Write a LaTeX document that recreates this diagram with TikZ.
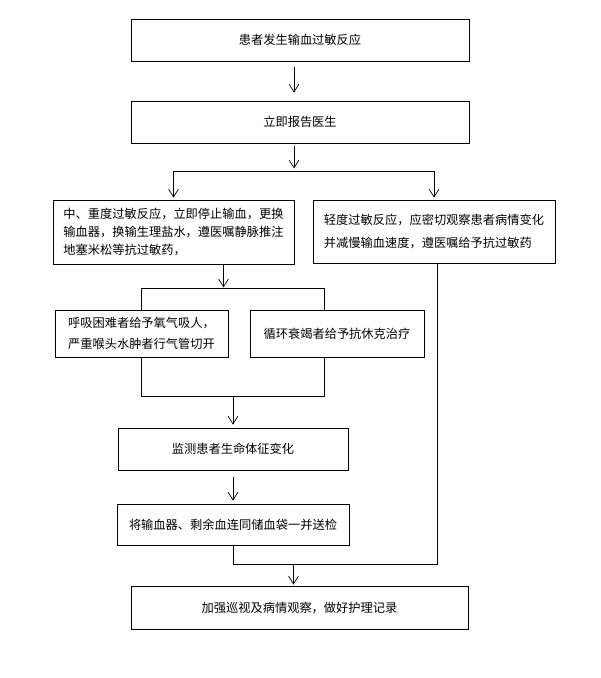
\documentclass[tikz,border=0pt]{standalone}
\usepackage{fontspec}
\setmainfont{Noto Sans CJK SC}
\usetikzlibrary{arrows.meta,calc}

\tikzset{
  box/.style={draw, line width=0.6pt, rectangle, inner sep=0pt,
    font=\fontsize{8.7pt}{13.1pt}\selectfont},
  arr/.style={line width=0.6pt, -{Straight Barb[length=5.5pt,width=7pt,line width=0.5pt]}},
  ln/.style={line width=0.6pt}
}

\begin{document}
\begin{tikzpicture}[x=0.025cm, y=-0.025cm]
    \useasboundingbox (0,0) rectangle (600,678);

    % Riquadri
    \node[box, minimum width=8.45cm, minimum height=1.05cm] (onset) at (300,40) {患者发生输血过敏反应};
    \node[box, minimum width=8.45cm, minimum height=1.05cm] (doctor) at (300,122) {立即报告医生};
    \node[box, minimum width=6.025cm, minimum height=1.6cm, align=left] (severe) at (173.5,232)
        {中、重度过敏反应，立即停止输血，更换\\输血器，换输生理盐水，遵医嘱静脉推注\\地塞米松等抗过敏药，};
    \node[box, minimum width=6.05cm, minimum height=1.575cm, align=left,
        font=\fontsize{8.7pt}{16.3pt}\selectfont] (mild) at (434,231.5)
        {轻度过敏反应，应密切观察患者病情变化\\并减慢输血速度，遵医嘱给予抗过敏药};
    \node[box, minimum width=4.325cm, minimum height=1.175cm, align=left,
        font=\fontsize{8.7pt}{14.9pt}\selectfont] (breath) at (141.5,333.5)
        {呼吸困难者给予氧气吸人，\\严重喉头水肿者行气管切开};
    \node[box, minimum width=4.35cm, minimum height=1.175cm] (shock) at (337,333.5) {循环衰竭者给予抗休克治疗};
    \node[box, minimum width=5.75cm, minimum height=1.05cm] (monitor) at (233,449) {监测患者生命体征变化};
    \node[box, minimum width=5.8cm, minimum height=1.025cm] (sample) at (233,524.5) {将输血器、剩余血连同储血袋一并送检};
    \node[box, minimum width=8.425cm, minimum height=1.075cm] (patrol) at (299.5,607.5) {加强巡视及病情观察，做好护理记录};

    % Frecce in alto
    \draw[arr] ($(onset.south)+(-6,6)$) -- ($(doctor.north)+(-6,-8)$);
    \coordinate (fork) at ($(doctor.south)+(-6,28)$);
    \draw[arr] ($(doctor.south)+(-6,3)$) -- ($(fork)+(0,-3)$);
    \draw[ln] (fork -| severe.north) -- (fork -| mild.north);
    \draw[arr] (fork -| severe.north) -- ($(severe.north)+(0,-2)$);
    \draw[arr] (fork -| mild.north) -- ($(mild.north)+(0,-2)$);

    % Rami del caso grave
    \draw[arr] ($(severe.south)+(50,0)$) -- ($(severe.south)+(50,23)$);
    \coordinate (b1) at ($(breath.north)+(0,-21)$);
    \coordinate (b2) at ($(shock.north)+(-13,-21)$);
    \draw[ln] (breath.north) -- (b1) -- (b2) -- (b2 |- shock.north);
    \coordinate (m1) at ($(breath.south)+(0,39)$);
    \coordinate (m2) at ($(shock.south)+(-13,39)$);
    \draw[ln] (breath.south) -- (m1) -- (m2) -- (m2 |- shock.south);
    \draw[arr] (m1 -| monitor.north) -- ($(monitor.north)+(0,-3)$);
    \draw[arr] ($(monitor.south)+(0,7)$) -- ($(sample.north)+(0,-3)$);

    % Ricongiungimento
    \coordinate (j) at ($(sample.south)+(0,19)$);
    \coordinate (r) at ($(mild.south)+(3,0)$);
    \draw[ln] (sample.south) -- (j) -- (j -| r) -- (r);
    \draw[arr] (j -| {$(patrol.north)+(-6,0)$}) -- ($(patrol.north)+(-6,-1)$);
\end{tikzpicture}
\end{document}
